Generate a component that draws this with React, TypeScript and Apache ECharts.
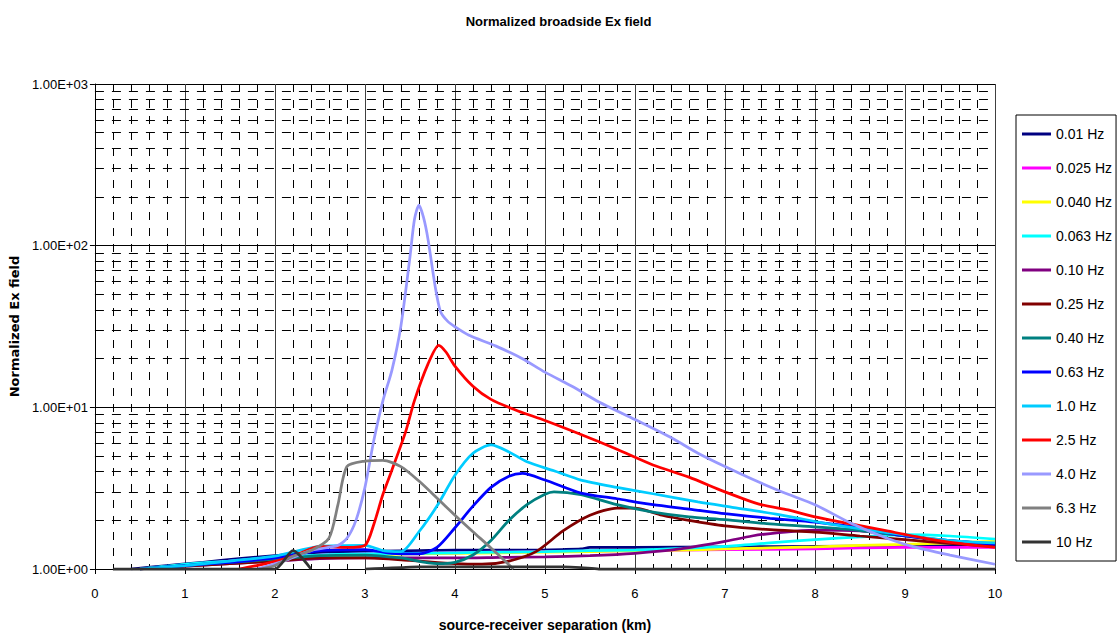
import React, { useEffect, useRef } from "react";
import * as echarts from "echarts";

// Frequencies shown in the legend
const seriesNames = [
  "0.01 Hz", "0.025 Hz", "0.040 Hz", "0.063 Hz", "0.10 Hz", "0.25 Hz", "0.40 Hz",
  "0.63 Hz", "1.0 Hz", "2.5 Hz", "4.0 Hz", "6.3 Hz", "10 Hz",
];
const seriesColors = [
  "#000080", "#FF00FF", "#FFFF00", "#00FFFF", "#800080", "#800000", "#008080",
  "#0000FF", "#00CCFF", "#FF0000", "#9999FF", "#808080", "#333333",
];

// [separation (km), normalized Ex]; null marks a stretch below the axis range
const hz001 = [[0.4,1.0],[0.8,1.05],[1.2,1.1],[1.6,1.16],[2.0,1.21],[2.4,1.26],[2.8,1.28],[3.2,1.29],[3.6,1.3],[4.0,1.31],[4.4,1.31],[4.8,1.31],[5.2,1.32],[5.4,1.33],[5.5,1.36],[6,1.36],[7,1.37],[8,1.38],[9,1.39],[10,1.4]];
const hz0025 = [[0.5,1.0],[1,1.06],[1.5,1.12],[2,1.17],[2.5,1.22],[3,1.24],[3.5,1.25],[4,1.26],[4.5,1.27],[5,1.28],[5.5,1.29],[6,1.3],[7,1.32],[8,1.33],[8.5,1.35],[9,1.36],[10,1.36]];
const hz0040 = [[0.5,1.0],[1,1.06],[1.5,1.11],[2,1.16],[2.5,1.2],[3,1.22],[3.5,1.24],[4,1.25],[4.5,1.26],[5,1.27],[5.5,1.28],[6,1.3],[6.5,1.31],[7,1.33],[7.5,1.35],[8,1.37],[8.5,1.4],[9,1.42],[9.5,1.45],[10,1.48]];
const hz0063 = [[0.5,1.0],[1,1.07],[1.5,1.12],[2,1.18],[2.5,1.22],[3,1.24],[3.5,1.25],[4,1.26],[4.5,1.27],[5,1.28],[5.5,1.3],[6,1.31],[6.5,1.34],[7,1.38],[7.5,1.45],[8,1.52],[8.5,1.58],[9,1.63],[9.5,1.6],[10,1.53]];
const hz010 = [[0.5,1.0],[1,1.04],[1.5,1.08],[2,1.12],[2.5,1.16],[3,1.17],[3.5,1.17],[4,1.17],[4.5,1.18],[5,1.19],[5.5,1.21],[6,1.25],[6.5,1.33],[7,1.48],[7.3,1.6],[7.6,1.68],[8,1.74],[8.5,1.72],[9,1.6],[9.5,1.48],[10,1.4]];
const hz025 = [[0.5,1.0],[1,1.04],[1.5,1.08],[2,1.12],[2.5,1.17],[3,1.17],[3.5,1.13],[4,1.08],[4.3,1.07],[4.6,1.12],[4.9,1.28],[5.2,1.72],[5.5,2.15],[5.8,2.38],[6.0,2.38],[6.3,2.15],[6.6,2.0],[7,1.85],[7.5,1.75],[8,1.69],[8.5,1.6],[9,1.52],[9.5,1.44],[10,1.38]];
const hz040 = [[0.5,1.0],[1,1.05],[1.5,1.1],[2,1.15],[2.5,1.21],[3,1.22],[3.4,1.17],[3.8,1.08],[4.0,1.1],[4.2,1.22],[4.4,1.5],[4.6,2.0],[4.8,2.5],[5.0,2.9],[5.1,3.0],[5.4,2.88],[5.8,2.5],[6.2,2.25],[6.6,2.1],[7,2.02],[7.5,1.9],[8,1.82],[8.5,1.73],[9,1.6],[9.5,1.5],[10,1.43]];
const hz063 = [[0.5,1.0],[1,1.05],[1.5,1.1],[2,1.17],[2.5,1.3],[3,1.32],[3.3,1.25],[3.6,1.24],[3.8,1.36],[4.0,1.8],[4.2,2.45],[4.4,3.2],[4.6,3.75],[4.75,3.9],[5.0,3.55],[5.4,2.95],[5.8,2.72],[6.2,2.5],[6.6,2.35],[7,2.2],[7.5,2.06],[8,1.95],[8.5,1.8],[9,1.6],[9.5,1.5],[10,1.42]];
const hz10 = [[0.5,1.0],[1,1.05],[1.5,1.12],[2,1.2],[2.5,1.38],[3,1.4],[3.2,1.3],[3.4,1.28],[3.6,1.7],[3.8,2.45],[4.0,3.8],[4.2,5.2],[4.4,5.85],[4.6,5.3],[4.8,4.6],[5.1,4.05],[5.4,3.55],[5.8,3.2],[6.2,2.92],[6.7,2.6],[7.1,2.4],[7.6,2.17],[8.2,1.88],[8.8,1.68],[9.5,1.5],[10,1.45]];
const hz25 = [[1.6,1.0],[1.9,1.08],[2.2,1.2],[2.5,1.38],[2.8,1.36],[3.0,1.4],[3.1,1.9],[3.2,2.9],[3.3,4.1],[3.45,7.0],[3.55,11],[3.7,18.5],[3.82,24.2],[3.9,22],[4.0,18],[4.2,13.5],[4.4,11.2],[4.7,9.5],[5.0,8.3],[5.4,6.8],[5.8,5.5],[6.2,4.4],[6.6,3.7],[7,3.0],[7.4,2.5],[7.7,2.32],[8,2.1],[8.4,1.9],[8.8,1.72],[9.2,1.56],[9.6,1.44],[10,1.36]];
const hz40 = [[1.8,1.0],[2.1,1.12],[2.4,1.3],[2.7,1.4],[2.8,1.55],[2.9,2.0],[3.0,3.2],[3.1,6.3],[3.2,11],[3.3,17],[3.4,32],[3.5,85],[3.55,145],[3.6,178],[3.65,150],[3.7,110],[3.78,56],[3.84,39],[3.92,34],[4.0,31.5],[4.15,28],[4.45,24],[4.75,20],[5.0,16.5],[5.3,13.5],[5.6,10.8],[6.0,8.4],[6.4,6.5],[6.7,5.2],[7.0,4.3],[7.3,3.6],[7.65,2.97],[8.0,2.5],[8.4,1.92],[8.8,1.55],[9.1,1.37],[9.5,1.22],[10,1.07]];
const hz63 = [[1.85,1.0],[2.0,1.05],[2.2,1.2],[2.4,1.3],[2.6,1.55],[2.7,2.5],[2.8,4.3],[3.0,4.65],[3.2,4.7],[3.4,4.3],[3.6,3.5],[3.8,2.75],[4.0,2.15],[4.2,1.7],[4.4,1.35],[4.65,1.0]];
const hz100 = [[0.2,1.0],[1.0,1.0],[2.0,1.0],[2.2,1.3],[2.4,1.0],[2.5,null],[3.0,1.0],[3.2,1.01],[3.4,1.02],[3.6,1.03],[4.0,1.03],[4.4,1.03],[4.8,1.03],[5.2,1.03],[5.4,1.02],[5.6,1.0],[6,1.0],[7,1.0],[8,1.0],[9,1.0],[10,1.0]];

const seriesData = [hz001, hz0025, hz0040, hz0063, hz010, hz025, hz040, hz063, hz10, hz25, hz40, hz63, hz100];

// Axis ranges and labels
const xMin = 0;
const xMax = 10;
const yTickLabels = ["1.00E+00", "1.00E+01", "1.00E+02", "1.00E+03"];
// Minor (2..9 per decade) horizontal grid values
const minorYValues = [2, 3, 4, 5, 6, 7, 8, 9, 20, 30, 40, 50, 60, 70, 80, 90, 200, 300, 400, 500, 600, 700, 800, 900];

const FONT = "'Liberation Sans', Arial, sans-serif";
const WIDE_FONT = "'DejaVu Sans', 'Liberation Sans', sans-serif";

export default function App() {
  const ref = useRef<HTMLDivElement>(null);

  useEffect(() => {
    if (!ref.current) return;
    const chart = echarts.init(ref.current, null, { renderer: "svg" });

    const lines = seriesNames.map((name, i) => ({
      name,
      type: "line",
      data: seriesData[i],
      showSymbol: false,
      smooth: 0.25,
      connectNulls: false,
      z: 10 + i,
      lineStyle: { color: seriesColors[i], width: 2.75 },
      itemStyle: { color: seriesColors[i] },
      // the highest-frequency trace runs along the bottom edge and is drawn unclipped
      clip: i !== seriesNames.length - 1,
    }));

    const minorGrid = {
      name: "minor-grid",
      type: "line",
      data: [],
      z: 1,
      silent: true,
      markLine: {
        silent: true,
        z: 1,
        symbol: "none",
        label: { show: false },
        lineStyle: { color: "#000", width: 1, type: [9, 8] },
        emphasis: { disabled: true },
        data: minorYValues.map((v) => ({ yAxis: v })),
      },
    };

    chart.setOption({
      animation: false,
      backgroundColor: "#fff",
      title: {
        text: "Normalized broadside Ex field",
        left: "center",
        top: 10,
        textStyle: { fontFamily: FONT, fontSize: 13, fontWeight: "bold", color: "#000" },
      },
      legend: {
        orient: "vertical",
        left: 1016,
        top: 115,
        padding: [12, 4, 12, 6],
        itemGap: 20,
        itemWidth: 29,
        itemHeight: 3,
        icon: "rect",
        borderColor: "#000",
        borderWidth: 1,
        data: seriesNames,
        textStyle: { fontFamily: FONT, fontSize: 14, color: "#000" },
      },
      grid: { left: 92, right: 122, top: 84, bottom: 65, containLabel: false },
      xAxis: {
        type: "value",
        min: xMin,
        max: xMax,
        interval: 1,
        name: "source-receiver separation (km)",
        nameLocation: "middle",
        nameGap: 49,
        nameTextStyle: { fontFamily: FONT, fontSize: 14, fontWeight: "bold", color: "#000" },
        axisLine: { show: true, lineStyle: { color: "#000", width: 1 } },
        axisTick: { show: true, length: 5, lineStyle: { color: "#000" } },
        axisLabel: { fontFamily: FONT, fontSize: 13, color: "#000", margin: 18 },
        splitLine: { show: true, lineStyle: { color: "#404040", width: 1 } },
        minorTick: { show: false, splitNumber: 5 },
        minorSplitLine: { show: true, lineStyle: { color: "#000", width: 1, type: [8, 8] } },
      },
      yAxis: {
        type: "log",
        logBase: 10,
        min: 1,
        max: 1000,
        name: "Normalized Ex field",
        nameLocation: "middle",
        nameRotate: 90,
        nameGap: 68,
        nameTextStyle: { fontFamily: WIDE_FONT, fontSize: 13, fontWeight: "bold", color: "#000" },
        axisLine: { show: true, lineStyle: { color: "#000", width: 1 } },
        axisTick: { show: true, length: 5, lineStyle: { color: "#000" } },
        axisLabel: {
          fontFamily: FONT,
          fontSize: 13,
          color: "#000",
          margin: 7,
          formatter: (v: number) => yTickLabels[Math.round(Math.log10(v))] ?? "",
        },
        splitLine: { show: true, lineStyle: { color: "#000", width: 1 } },
      },
      series: [minorGrid, ...lines],
    });

    return () => chart.dispose();
  }, []);

  return <div ref={ref} style={{ width: 1117, height: 637, position: "absolute", left: 0, top: 0 }} />;
}
